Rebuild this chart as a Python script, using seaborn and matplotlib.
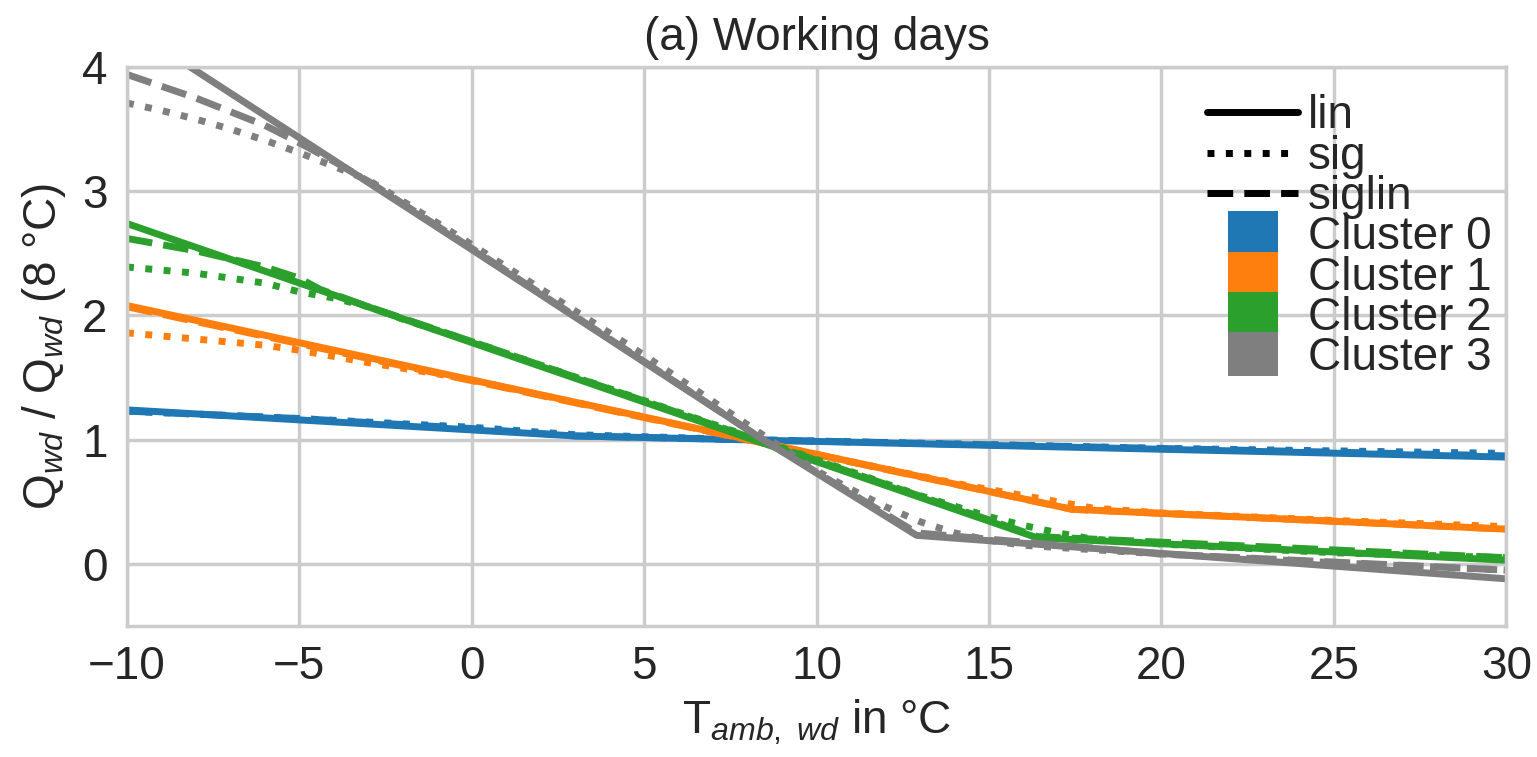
import pandas as pd
import numpy as np
import matplotlib
matplotlib.use('Agg')
import matplotlib.pyplot as plt
from matplotlib.lines import Line2D
import seaborn as sns

# --- values ---
clusters = ['Cluster 0', 'Cluster 1', 'Cluster 2', 'Cluster 3']
colors = ['#1f77b4', '#ff7f0e', '#2ca02c', '#7f7f7f']
models = ['lin', 'sig', 'siglin']

# Cluster 0
c0_lin_x = [-10, 3, 30]
c0_lin_y = [1.24, 1.03, 0.86]
c0_sig_x = [-10, -5, 0, 3, 8, 15, 20, 25, 30]
c0_sig_y = [1.23, 1.17, 1.10, 1.04, 1.00, 0.96, 0.93, 0.91, 0.89]
c0_siglin_x = [-10, -5, 0, 3, 30]
c0_siglin_y = [1.23, 1.17, 1.09, 1.03, 0.87]

# Cluster 1
c1_lin_x = [-10, 17.4, 30]
c1_lin_y = [2.08, 0.44, 0.28]
c1_sig_x = [-10, -8, -6, -5, -3, -1, 0, 10, 14, 16, 17, 18, 20, 25, 30]
c1_sig_y = [1.86, 1.81, 1.76, 1.72, 1.62, 1.53, 1.48, 0.88, 0.65, 0.55, 0.50, 0.45, 0.41, 0.35, 0.30]
c1_siglin_x = [-10, 17.4, 30]
c1_siglin_y = [2.07, 0.44, 0.28]

# Cluster 2
c2_lin_x = [-10, 16.4, 30]
c2_lin_y = [2.74, 0.21, 0.03]
c2_sig_x = [-10, -8, -6, -5, -4, -3, -2, 0, 10, 13, 15, 16, 17, 18, 20, 25, 30]
c2_sig_y = [2.39, 2.34, 2.26, 2.19, 2.14, 2.07, 1.97, 1.79, 0.84, 0.55, 0.38, 0.31, 0.25, 0.20, 0.16, 0.09, 0.05]
c2_siglin_x = [-10, -8, -6, -5, -4.4, -3, 0, 16.4, 30]
c2_siglin_y = [2.62, 2.52, 2.39, 2.30, 2.21, 2.07, 1.79, 0.22, 0.05]

# Cluster 3
c3_lin_x = [-10, 0, 8.5, 12.9, 30]
c3_lin_y = [4.33, 2.53, 0.99, 0.23, -0.12]
c3_sig_x = [-10, -9, -8, -7, -6, -5, -4, -3, -2, 0, 5, 8, 10, 11, 12, 13, 14, 15, 16, 20, 25, 30]
c3_sig_y = [3.71, 3.65, 3.58, 3.50, 3.41, 3.31, 3.20, 3.09, 2.92, 2.57, 1.68, 1.12, 0.75, 0.60, 0.46, 0.34, 0.25, 0.19, 0.15, 0.08, 0.01, -0.05]
c3_siglin_x = [-10, -8, -6, -5, -4, -3, 0, 8.5, 12.9, 20, 30]
c3_siglin_y = [3.94, 3.75, 3.53, 3.39, 3.24, 3.08, 2.54, 0.99, 0.25, 0.08, -0.05]

series = {
    ('Cluster 0', 'lin'): (c0_lin_x, c0_lin_y),
    ('Cluster 0', 'sig'): (c0_sig_x, c0_sig_y),
    ('Cluster 0', 'siglin'): (c0_siglin_x, c0_siglin_y),
    ('Cluster 1', 'lin'): (c1_lin_x, c1_lin_y),
    ('Cluster 1', 'sig'): (c1_sig_x, c1_sig_y),
    ('Cluster 1', 'siglin'): (c1_siglin_x, c1_siglin_y),
    ('Cluster 2', 'lin'): (c2_lin_x, c2_lin_y),
    ('Cluster 2', 'sig'): (c2_sig_x, c2_sig_y),
    ('Cluster 2', 'siglin'): (c2_siglin_x, c2_siglin_y),
    ('Cluster 3', 'lin'): (c3_lin_x, c3_lin_y),
    ('Cluster 3', 'sig'): (c3_sig_x, c3_sig_y),
    ('Cluster 3', 'siglin'): (c3_siglin_x, c3_siglin_y),
}

rows = []
for (cl, m), (xs, ys) in series.items():
    for x, y in zip(xs, ys):
        rows.append({'cluster': cl, 'model': m, 'T': x, 'Q': y})
df = pd.DataFrame(rows)

# --- style ---
sns.set_theme(style='whitegrid')
plt.rcParams['font.family'] = ['Liberation Sans', 'DejaVu Sans']
plt.rcParams['mathtext.fontset'] = 'custom'
plt.rcParams['mathtext.rm'] = 'Liberation Sans'
plt.rcParams['mathtext.it'] = 'Liberation Sans:italic'
plt.rcParams['axes.edgecolor'] = '.8'
plt.rcParams['grid.color'] = '.8'

fs = 33
lw = 5

fig, ax = plt.subplots(figsize=(15.37, 7.57), dpi=100)
fig.subplots_adjust(left=0.0826, right=0.980, top=0.9115, bottom=0.173)

dash_map = {'lin': '', 'sig': (1, 1.65), 'siglin': (3.7, 1.6)}
sns.lineplot(data=df, x='T', y='Q', hue='cluster', style='model',
             hue_order=clusters, style_order=models,
             palette=dict(zip(clusters, colors)), dashes=dash_map,
             estimator=None, sort=False, linewidth=lw, legend=False, ax=ax)

ax.set_xlim(-10, 30)
ax.set_ylim(-0.5, 4)
ax.set_xticks([-10, -5, 0, 5, 10, 15, 20, 25, 30])
ax.set_yticks([0, 1, 2, 3, 4])
ax.tick_params(labelsize=fs, pad=8)
ax.grid(True, linewidth=2.5, color='.8')
for s in ax.spines.values():
    s.set_linewidth(2.5)
    s.set_color('.8')

ax.set_xlabel(r'T$_{amb,\ wd}$ in °C', fontsize=fs, labelpad=6)
ax.set_ylabel(r'Q$_{wd}$ / Q$_{wd}$ (8 °C)', fontsize=fs, labelpad=10)
ax.set_title('(a) Working days', fontsize=fs, pad=12)

# legend: line styles then cluster colours (rectangular swatches)
rect = [(-0.58, -0.5), (0.58, -0.5), (0.58, 0.5), (-0.58, 0.5), (-0.58, -0.5)]
handles = [Line2D([], [], color='black', lw=lw, ls='-'),
           Line2D([], [], color='black', lw=lw, ls=':'),
           Line2D([], [], color='black', lw=lw, ls='--')]
for c in colors:
    handles.append(Line2D([], [], marker=rect, ms=36, mew=0, color=c, ls='none'))
ax.legend(handles, models + clusters, loc='upper right', bbox_to_anchor=(1.009, 1.0),
          fontsize=fs, frameon=False, labelspacing=-0.08, handletextpad=0.2,
          borderaxespad=0.3, borderpad=0.3)

plt.savefig('out.png', dpi=100)
